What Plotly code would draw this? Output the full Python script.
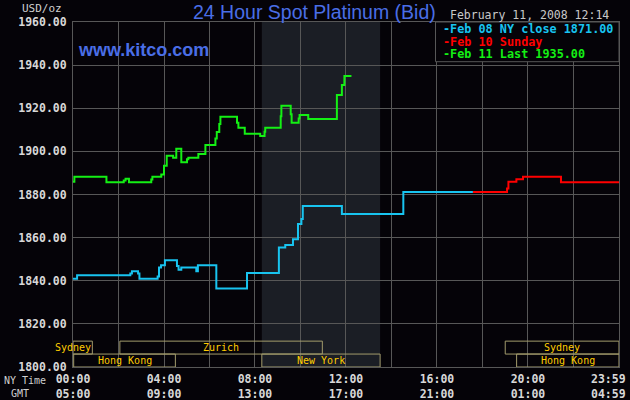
import plotly.graph_objects as go

# 시간축: 뉴욕 시간 (0~24시)
ny_labels = ["00:00", "04:00", "08:00", "12:00", "16:00", "20:00", "23:59"]
gmt_labels = ["05:00", "09:00", "13:00", "17:00", "21:00", "01:00", "04:59"]

# Feb 08 NY close
feb08_t = [0, 0.18, 2.52, 2.59, 2.86, 2.92, 3.72, 3.78, 3.87, 4.04, 4.57, 4.64, 4.76,
           5.42, 5.49, 6.30, 7.65, 9.05, 9.33, 9.67, 9.89, 10.04, 10.10, 11.82, 14.52, 17.58]
feb08_v = [1840.9, 1842.5, 1843.4, 1844.4, 1843.4, 1840.9, 1842.0, 1846.2, 1847.2, 1849.5,
           1846.8, 1845.1, 1846.2, 1844.4, 1847.2, 1836.4, 1843.6, 1855.4, 1856.6, 1859.3,
           1866.3, 1868.6, 1874.7, 1871.0, 1881.2, 1881.2]

# Feb 10 Sunday
feb10_t = [17.58, 19.08, 19.14, 19.49, 19.78, 21.45, 24.0]
feb10_v = [1881.2, 1882.8, 1885.9, 1887.1, 1888.2, 1885.7, 1885.7]

# Feb 11 Last
feb11_t = [0, 0.06, 1.47, 2.23, 2.31, 2.46, 3.44, 3.49, 3.88, 4.0, 4.12, 4.40, 4.54, 4.76,
           5.01, 5.07, 5.51, 5.82, 6.26, 6.32, 6.43, 6.48, 7.21, 7.27, 7.55, 8.23, 8.42,
           8.45, 9.13, 9.16, 9.57, 9.61, 9.92, 9.96, 10.34, 11.60, 11.82, 11.93, 12.24]
feb11_v = [1885.9, 1888.2, 1885.7, 1886.5, 1887.3, 1885.7, 1887.0, 1888.2, 1889.3, 1893.3,
           1898.0, 1897.0, 1901.2, 1895.0, 1896.3, 1897.0, 1898.8, 1903.0, 1906.0, 1909.0,
           1912.7, 1916.1, 1913.3, 1911.0, 1908.2, 1907.1, 1909.1, 1911.0, 1916.3, 1921.2,
           1917.2, 1913.3, 1915.3, 1916.9, 1915.0, 1926.2, 1930.8, 1935.0, 1935.0]

# 거래소 세션 (시작, 끝 시간)
top_sessions = ["Sydney", "Zurich", "Sydney"]
top_start = [0, 2.06, 19.0]
top_end = [0.85, 10.96, 24.0]
bottom_sessions = ["Hong Kong", "New York", "Hong Kong"]
bottom_start = [0.03, 8.3, 19.5]
bottom_end = [4.5, 13.5, 24.0]

ny_session = (8.3, 13.5)

legend_lines = ["-Feb 08 NY close 1871.00", "-Feb 10 Sunday", "-Feb 11 Last 1935.00"]

BG = "#050308"
GRID = "#575757"
MONO = "DejaVu Sans Mono"
CYAN = "#18c4f0"
RED = "#ff0000"
GREEN = "#14f014"
TICK_FONT = dict(family=MONO, size=11.5, color="#d8d8d8", weight="bold")

W, H = 630, 400
ML, MR, MT, MB = 73, 11, 22, 33


def px(x, y):
    # 픽셀 좌표 -> paper 좌표
    return (x - ML) / (W - ML - MR), (H - MB - y) / (H - MT - MB)


fig = go.Figure()

for t, v, c in [(feb08_t, feb08_v, CYAN), (feb10_t, feb10_v, RED), (feb11_t, feb11_v, GREEN)]:
    fig.add_trace(go.Scatter(x=t, y=v, mode="lines", line=dict(color=c, width=2, shape="hv"),
                             showlegend=False, hoverinfo="skip"))

# 뉴욕 세션 음영
fig.add_shape(type="rect", xref="x", yref="y", x0=ny_session[0], x1=ny_session[1],
              y0=1800, y1=1960, fillcolor="#1b1e25", line_width=0, layer="below")

# 세션 박스
BOX = "#a39c6c"
SESS = "#ffcc00"
for names, s, e, y0, y1 in [(top_sessions, top_start, top_end, 1806, 1812),
                            (bottom_sessions, bottom_start, bottom_end, 1800, 1806)]:
    for n, a, b in zip(names, s, e):
        fig.add_shape(type="rect", xref="x", yref="y", x0=a, x1=b, y0=y0, y1=y1,
                      line=dict(color=BOX, width=1), fillcolor="rgba(0,0,0,0)")
        xc = (a + b) / 2 / 24
        if b - a < 1:
            xc = px(72.5, 0)[0]
        fig.add_annotation(x=xc, y=(y0 + y1) / 2, xref="paper", yref="y", text=n, showarrow=False,
                           xanchor="center", yanchor="middle",
                           font=dict(family=MONO, size=10, color=SESS))

# 범례 박스
lx0, ly0 = px(435.5, 61.7)
fig.add_shape(type="rect", xref="paper", yref="paper", x0=lx0, x1=1.0, y0=ly0, y1=1.0,
              line=dict(color=GRID, width=1), fillcolor=BG)
for i, (txt, c) in enumerate(zip(legend_lines, [CYAN, RED, GREEN])):
    ax, ay = px(441, 29.5 + i * 12.2)
    fig.add_annotation(x=ax, y=ay, xref="paper", yref="paper", text=txt,
                       showarrow=False, xanchor="left", yanchor="middle",
                       font=dict(family=MONO, size=11.8, color=c, weight="bold"))

# x축: 2시간 격자, 4시간 라벨 (마지막 23:59는 주석으로)
tickvals = list(range(0, 25, 2))
ticktext = []
for h in tickvals:
    if h % 4 == 0 and h < 24:
        ticktext.append(ny_labels[h // 4] + "<br>" + gmt_labels[h // 4])
    else:
        ticktext.append("")

fig.update_layout(
    width=W, height=H,
    margin=dict(l=ML, r=MR, t=MT, b=MB),
    paper_bgcolor=BG, plot_bgcolor=BG,
    xaxis=dict(range=[0, 24.001], tickvals=tickvals, ticktext=ticktext, showgrid=True,
               gridcolor=GRID, gridwidth=1, showline=True, linecolor=GRID, mirror=True,
               zeroline=False, ticks="", automargin=False, ticklabelstandoff=1,
               tickfont=TICK_FONT),
    yaxis=dict(range=[1800, 1960], dtick=20, tickformat=".2f", showgrid=True,
               gridcolor=GRID, gridwidth=1, showline=True, linecolor=GRID, mirror=True,
               zeroline=False, ticks="", ticklabelstandoff=3, automargin=False,
               tickfont=TICK_FONT),
)

# 나머지 텍스트
texts = [
    ("24 Hour Spot Platinum (Bid)", 314, 12, dict(family="Liberation Sans", size=19.5, color="#4a6ee6"), "center"),
    ("February 11, 2008 12:14", 448, 15, dict(family=MONO, size=11.5, color="#c8c8c8"), "left"),
    ("www.kitco.com", 76, 50, dict(family="Liberation Sans", size=18, color="#4a6ee6", weight="bold"), "left"),
    ("USD/oz", 20, 8, dict(family=MONO, size=11, color="#d0d0d0"), "left"),
    ("NY Time", 2, 380, dict(family=MONO, size=10, color="#d0d0d0"), "left"),
    ("GMT", 20, 393, dict(family=MONO, size=10, color="#d0d0d0"), "center"),
    (ny_labels[-1], 608, 378.5, TICK_FONT, "center"),
    (gmt_labels[-1], 608, 393.5, TICK_FONT, "center"),
]
for txt, x, y, f, anchor in texts:
    ax, ay = px(x, y)
    fig.add_annotation(x=ax, y=ay, xref="paper", yref="paper", text=txt, showarrow=False,
                       xanchor=anchor, yanchor="middle", font=f)

# 페이지 기본 여백 제거
fig.write_html("out.html", config={"displayModeBar": False},
               post_script="document.body.style.margin='0px';document.body.style.background='#050308';")
